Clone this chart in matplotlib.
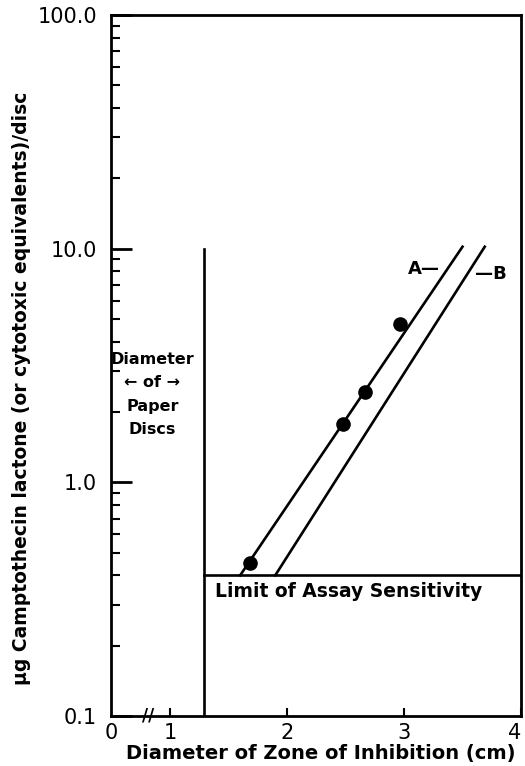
import matplotlib.pyplot as plt
from matplotlib.ticker import FixedLocator, NullFormatter

# measured points (zone diameter cm, ug per disc)
pts_x = [1.68, 2.48, 2.67, 2.97]
pts_y = [0.45, 1.77, 2.43, 4.75]

# fitted lines A and B
line_a_x = [1.60, 3.50]
line_a_y = [0.40, 10.2]
line_b_x = [1.90, 3.69]
line_b_y = [0.40, 10.2]

disc_x = 1.29        # diameter of paper discs
limit_y = 0.40       # limit of assay sensitivity

xticks = [0.496, 1, 2, 3, 4]
xticklabels = ["0", "1", "2", "3", "4"]
yticks = [0.1, 1.0, 10.0, 100.0]
yticklabels = ["0.1", "1.0", "10.0", "100.0"]

fig = plt.figure(figsize=(5.25, 7.66), dpi=100)
ax = fig.add_axes([0.2114, 0.0653, 0.781, 0.915])
ax.set_yscale("log")
ax.set_xlim(0.496, 4)
ax.set_ylim(0.1, 100)

lw = 1.9
ax.plot(line_a_x, line_a_y, color="black", lw=lw)
ax.plot(line_b_x, line_b_y, color="black", lw=lw)
ax.plot(pts_x, pts_y, "o", color="black", ms=9.5)
ax.plot([disc_x, disc_x], [0.1, 10.0], color="black", lw=lw)
ax.plot([disc_x, 4], [limit_y, limit_y], color="black", lw=lw)

ax.text(3.03, 8.17, "A\u2014", fontsize=13, fontweight="bold", ha="left", va="center")
ax.text(3.61, 7.78, "\u2014B", fontsize=13, fontweight="bold", ha="left", va="center")
ax.text(1.385, 0.341, "Limit of Assay Sensitivity", fontsize=13.5, fontweight="bold",
        ha="left", va="center")
ax.text(0.85, 3.36, "Diameter", fontsize=11.5, fontweight="bold", ha="center", va="center")
ax.text(0.85, 2.68, "\u2190 of \u2192", fontsize=11.5, fontweight="bold", ha="center", va="center")
ax.text(0.85, 2.12, "Paper", fontsize=11.5, fontweight="bold", ha="center", va="center")
ax.text(0.85, 1.69, "Discs", fontsize=11.5, fontweight="bold", ha="center", va="center")

# axis break mark
ax.text(0.81, 0.1, "//", fontsize=12, fontweight="bold", ha="center", va="center")

ax.yaxis.set_major_locator(FixedLocator(yticks))
ax.set_yticklabels(yticklabels, fontsize=15)
ax.yaxis.set_minor_locator(FixedLocator(
    [m * d for d in (0.1, 1, 10) for m in range(2, 10)]))
ax.yaxis.set_minor_formatter(NullFormatter())
ax.tick_params(axis="y", which="major", direction="in", length=15, width=2, pad=10)
ax.tick_params(axis="y", which="minor", direction="in", length=6.5, width=1.5)
ax.tick_params(axis="y", right=False)

ax.set_xticks(xticks)
ax.set_xticklabels(xticklabels, fontsize=15)
ax.tick_params(axis="x", direction="in", length=6, width=1.5, pad=5)
ax.xaxis.get_major_ticks()[0].tick1line.set_visible(False)
ax.get_xticklabels()[-1].set_ha("right")

for s in ax.spines.values():
    s.set_linewidth(2)

fig.text(321 / 525, 1 - 754 / 766, "Diameter of Zone of Inhibition (cm)", fontsize=14,
         fontweight="bold", ha="center", va="center")
fig.text(22 / 525, 1 - 388 / 766,
         "\u03bcg Camptothecin lactone (or cytotoxic equivalents)/disc", fontsize=13.5,
         fontweight="bold", rotation=90, ha="center", va="center")

fig.savefig("out.png", dpi=100)
